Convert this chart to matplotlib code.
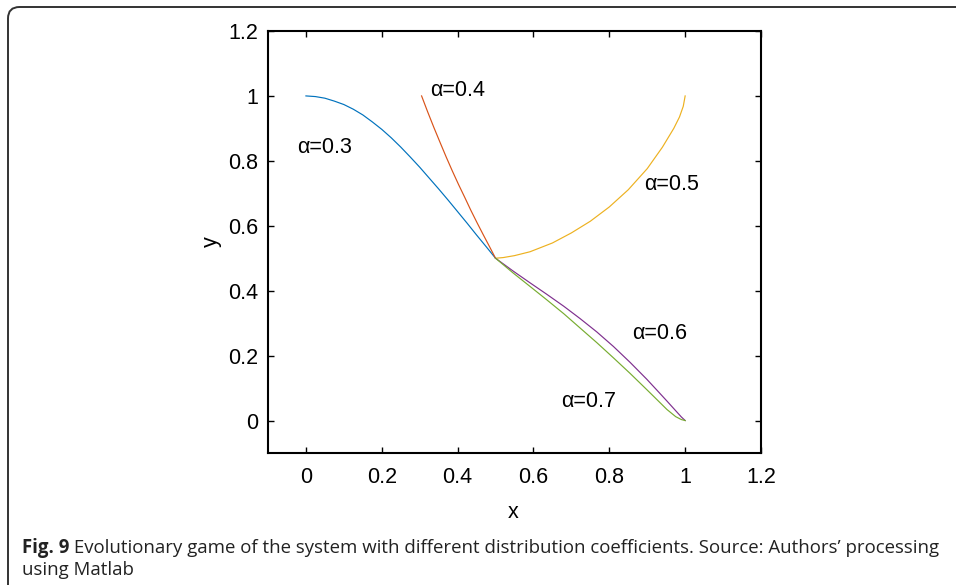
import matplotlib
matplotlib.use("Agg")
import matplotlib.pyplot as plt
from matplotlib.patches import FancyBboxPatch

# ---- data ----
x_a03 = [0.0, 0.025, 0.05, 0.075, 0.10, 0.125, 0.15, 0.175, 0.20, 0.225, 0.25,
         0.275, 0.30, 0.325, 0.35, 0.375, 0.40, 0.425, 0.45, 0.475, 0.50]
y_a03 = [1.0, 0.998, 0.993, 0.984, 0.9735, 0.959, 0.9415, 0.92, 0.897, 0.871, 0.8425,
         0.812, 0.7805, 0.747, 0.7135, 0.679, 0.6435, 0.608, 0.5715, 0.536, 0.50]

x_a04 = [0.305, 0.321, 0.3375, 0.354, 0.37, 0.386, 0.4025, 0.419, 0.435, 0.451, 0.4675, 0.484, 0.50]
y_a04 = [1.0, 0.951, 0.9025, 0.856, 0.8115, 0.769, 0.727, 0.687, 0.6474, 0.61, 0.5726, 0.536, 0.50]

x_a05 = [0.50, 0.52, 0.55, 0.591, 0.65, 0.70, 0.75, 0.80, 0.85, 0.90, 0.94, 0.97, 0.985, 0.995, 1.0]
y_a05 = [0.50, 0.502, 0.508, 0.52, 0.547, 0.578, 0.614, 0.658, 0.711, 0.776, 0.842, 0.90, 0.935, 0.968, 1.0]

x_a06 = [0.50, 0.547, 0.59, 0.635, 0.68, 0.723, 0.767, 0.811, 0.855, 0.899, 0.926, 0.952, 0.976, 0.99, 1.0]
y_a06 = [0.50, 0.460, 0.425, 0.389, 0.352, 0.314, 0.273, 0.228, 0.179, 0.127, 0.093, 0.060, 0.029, 0.011, 0.0]

x_a07 = [0.50, 0.547, 0.59, 0.635, 0.68, 0.723, 0.767, 0.811, 0.855, 0.899, 0.926, 0.952, 0.975, 0.99, 1.0]
y_a07 = [0.50, 0.454, 0.414, 0.372, 0.329, 0.285, 0.240, 0.193, 0.145, 0.095, 0.064, 0.034, 0.012, 0.003, 0.0]

labels = ["α=0.3", "α=0.4", "α=0.5", "α=0.6", "α=0.7"]
label_x = [0.05, 0.40, 0.965, 0.934, 0.745]
label_y = [0.84, 1.018, 0.726, 0.268, 0.06]

ticks = [0, 0.2, 0.4, 0.6, 0.8, 1, 1.2]
tick_labels = ["0", "0.2", "0.4", "0.6", "0.8", "1", "1.2"]

colors = ["#0072BD", "#D95319", "#EDB120", "#7E2F8E", "#77AC30"]

caption_bold = "Fig. 9"
caption_rest = " Evolutionary game of the system with different distribution coefficients. Source: Authors\u2019 processing"
caption_line2 = "using Matlab"

# ---- figure ----
plt.rcParams['font.family'] = ['Liberation Sans', 'DejaVu Sans']
W, H = 956, 585
fig = plt.figure(figsize=(W / 100, H / 100), dpi=100)

# rounded frame (top-left corner visible, extends beyond right/bottom edges)
frame = FancyBboxPatch((8 / W, -0.2), 1.2, 0.2 + 1 - 7 / H,
                       boxstyle="round,pad=0,rounding_size=0.012",
                       transform=fig.transFigure, fill=False,
                       edgecolor="#333333", linewidth=1.4, clip_on=False,
                       mutation_aspect=W / H)
fig.patches.append(frame)

ax = fig.add_axes([268 / W, 1 - 453 / H, (761 - 268) / W, (453 - 31) / H])

series = [(x_a03, y_a03), (x_a04, y_a04), (x_a05, y_a05), (x_a06, y_a06), (x_a07, y_a07)]
for (xs, ys), c in zip(series, colors):
    ax.plot(xs, ys, color=c, linewidth=0.85, solid_joinstyle="round")

for t, tx, ty in zip(labels, label_x, label_y):
    ax.text(tx, ty, t, ha="center", va="center", fontsize=15.5, color="black")

ax.set_xlim(-0.1, 1.2)
ax.set_ylim(-0.1, 1.2)
ax.set_xticks(ticks)
ax.set_xticklabels(tick_labels)
ax.set_yticks(ticks)
ax.set_yticklabels(tick_labels)
ax.tick_params(direction="in", length=4, width=1.0, labelsize=15.5,
               top=True, right=True)
ax.tick_params(axis="x", pad=10)
ax.tick_params(axis="y", pad=7)
for s in ax.spines.values():
    s.set_linewidth(1.5)

ax.set_xlabel("x", fontsize=15.5)
ax.xaxis.set_label_coords(513 / W, 1 - 518 / H, transform=fig.transFigure)
ax.xaxis.label.set_va("baseline")
ax.set_ylabel("y", fontsize=15.5)
ax.yaxis.set_label_coords(211 / W, 1 - 242 / H, transform=fig.transFigure)
ax.yaxis.label.set_va("center")

# caption
cap_font = ['Open Sans', 'DejaVu Sans']
cap_size = 13.4
t1 = fig.text(22 / W, 1 - 553 / H, caption_bold, fontsize=cap_size, fontweight="bold",
              family=cap_font, color="#222222", va="baseline", ha="left")
fig.canvas.draw()
bb = t1.get_window_extent()
fig.text(bb.x1 / W, 1 - 553 / H, caption_rest, fontsize=cap_size, family=cap_font,
         color="#222222", va="baseline", ha="left")
fig.text(22 / W, 1 - 575 / H, caption_line2, fontsize=cap_size, family=cap_font,
         color="#222222", va="baseline", ha="left")

fig.savefig("out.png", dpi=100)
